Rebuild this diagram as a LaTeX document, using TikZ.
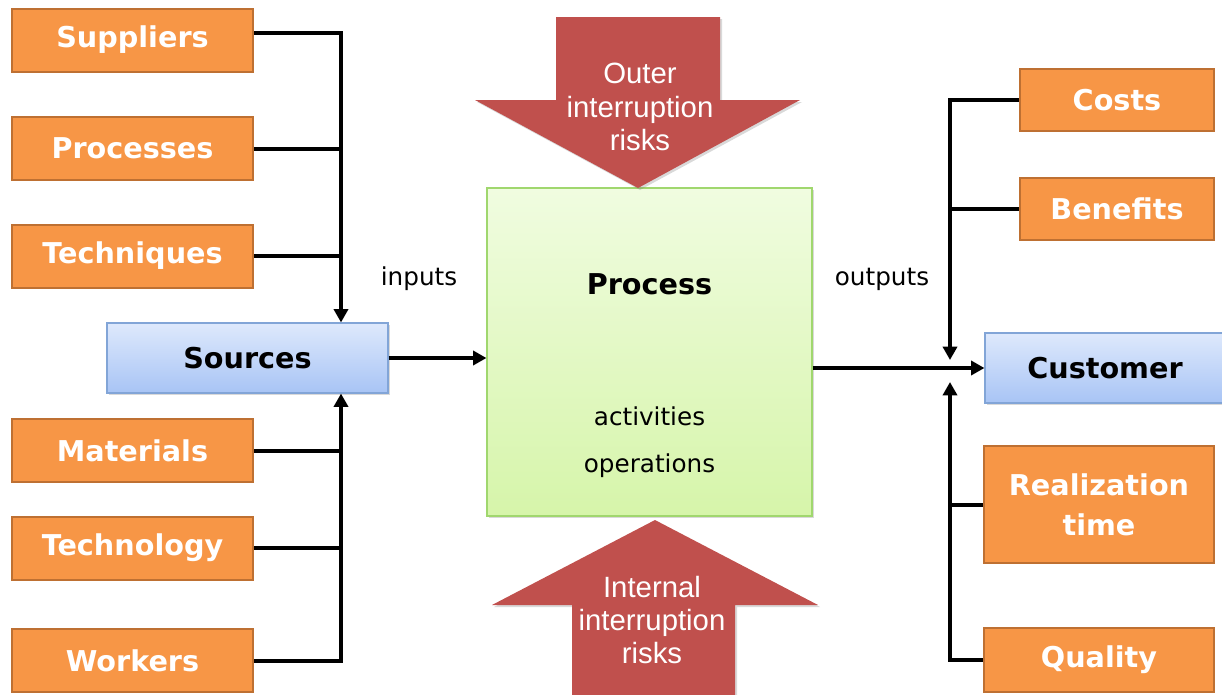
\documentclass[tikz,border=0pt]{standalone}
\usepackage{fontspec}
\setmainfont{DejaVu Sans}
\newfontfamily\riskfont{Liberation Sans}
\usetikzlibrary{arrows.meta,shadows}
\definecolor{orangefill}{RGB}{247,150,70}
\definecolor{orangeline}{RGB}{190,112,50}
\definecolor{bluetop}{RGB}{222,233,252}
\definecolor{bluebot}{RGB}{168,196,245}
\definecolor{blueline}{RGB}{130,165,215}
\definecolor{greentop}{RGB}{240,252,224}
\definecolor{greenbot}{RGB}{214,245,170}
\definecolor{greenline}{RGB}{160,215,110}
\definecolor{riskred}{RGB}{192,80,77}
\begin{document}
\begin{tikzpicture}[x=0.75pt,y=0.75pt,yscale=-1,xscale=1,
    factor/.style={draw=orangeline, line width=1.5pt, fill=orangefill, text=white,
        minimum width=180.75pt, minimum height=47.25pt, align=center,
        font=\fontsize{21.5}{30}\selectfont\bfseries,
        drop shadow={opacity=0.25, shadow xshift=1pt, shadow yshift=-1pt}},
    hub/.style={draw=blueline, line width=0.8pt, top color=bluetop, bottom color=bluebot,
        minimum width=210.75pt, minimum height=52.5pt,
        font=\fontsize{21.5}{25}\selectfont\bfseries,
        drop shadow={opacity=0.3, shadow xshift=1.5pt, shadow yshift=-1.5pt}},
    procbox/.style={draw=greenline, line width=0.8pt, top color=greentop, bottom color=greenbot,
        minimum width=243.75pt, minimum height=246pt,
        drop shadow={opacity=0.3, shadow xshift=1.5pt, shadow yshift=-1.5pt}},
    plain/.style={inner sep=0.75pt, font=\fontsize{18.5}{22}\selectfont},
    risk/.style={inner sep=0.75pt, text=white, align=center, font=\riskfont\fontsize{22}{25}\selectfont},
    wire/.style={line width=3pt},
    link/.style={line width=3pt, -{Triangle[length=10pt,width=10.5pt]}}
  ]
    \useasboundingbox (0,0) rectangle (1222,694);

    %Shape: Rectangle
    \node[procbox] (proc) at (649.5,352) {};

    %Shape: Down Arrow
    \fill[riskred, drop shadow={opacity=0.3, shadow xshift=1.5pt, shadow yshift=-1.5pt}] (556,17) -- (720,17) -- (720,100) -- (800,100) -- (638,188) -- (475,100) -- (556,100) -- cycle ;
    %Shape: Up Arrow
    \fill[riskred, drop shadow={opacity=0.3, shadow xshift=1.5pt, shadow yshift=-1.5pt}] (572,700) -- (735,700) -- (735,605) -- (818,605) -- (655,520) -- (492,605) -- (572,605) -- cycle ;

    % Text Node
    \node[risk] (outer) at (640,107) {Outer\\interruption\\risks};
    % Text Node
    \node[risk] (inner) at (652,620) {Internal\\interruption\\risks};

    %Shape: Rectangle
    \node[factor] (supp) at (132.5,40) {Suppliers};
    \node[factor] (procs) at (132.5,148.5) {Processes};
    \node[factor] (tech) at (132.5,256) {Techniques};
    \node[factor] (mat) at (132.5,450.5) {Materials};
    \node[factor] (techn) at (132.5,548) {Technology};
    \node[factor] (work) at (132.5,660.5) {Workers};
    \node[hub] (src) at (247.5,358) {Sources};

    \node[factor, minimum width=145.5pt, minimum height=46.5pt] (costs) at (1117,100) {Costs};
    \node[factor, minimum width=145.5pt, minimum height=46.5pt] (bene) at (1117,209) {Benefits};
    \node[hub, minimum width=180pt] (cust) at (1105,368) {Customer};
    \node[factor, minimum width=172.5pt, minimum height=87.75pt] (real) at (1099,504.5) {Realization\\time};
    \node[factor, minimum width=172.5pt, minimum height=48pt] (qual) at (1099,660) {Quality};

    % Text Node
    \node[plain, font=\fontsize{21.5}{25}\selectfont\bfseries] (proct) at (649.5,284) {Process};
    % Text Node
    \node[plain] (act) at (649.5,416) {activities};
    % Text Node
    \node[plain] (oper) at (649.5,466) {operations};
    % Text Node
    \node[plain] (inp) at (419,279) {inputs};
    % Text Node
    \node[plain] (outp) at (882,279) {outputs};

    \coordinate (ltrunk) at (341,0);
    \coordinate (rtop) at (950,360);
    \coordinate (rbot) at (950,382);

    %Straight Lines
    \draw[link] ([yshift=-5.25pt]supp.east) -| (src.north -| ltrunk);
    \draw[wire] (procs.east) -- (procs.east -| ltrunk);
    \draw[wire] (tech.east) -- (tech.east -| ltrunk);
    \draw[link] (work.east) -| (src.south -| ltrunk);
    \draw[wire] (mat.east) -- (mat.east -| ltrunk);
    \draw[wire] (techn.east) -- (techn.east -| ltrunk);
    \draw[link] (src.east) -- (proc.west |- src.east);
    \draw[link] (proc.east |- cust.west) -- (cust.west);
    \draw[link] (costs.west) -| (rtop);
    \draw[wire] (bene.west) -- (bene.west -| rtop);
    \draw[link] (qual.west) -| (rbot);
    \draw[wire] (real.west) -- (real.west -| rbot);

\end{tikzpicture}
\end{document}
